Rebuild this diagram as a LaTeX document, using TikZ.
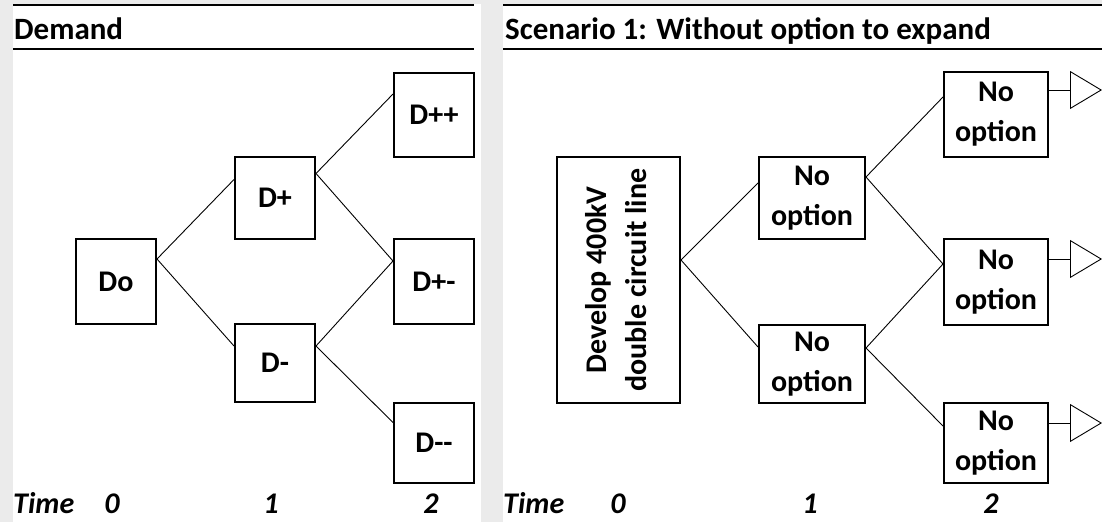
\documentclass[tikz,border=0pt]{standalone}
\usepackage{fontspec}
\setmainfont{Carlito}
\usepackage{tikz}
\usetikzlibrary{arrows.meta}
\tikzset{
	box/.style={draw,line width=2pt,minimum width=80pt,inner sep=0pt,align=center,
		font=\bfseries\fontsize{30}{40}\selectfont},
	link/.style={line width=0.9pt},
	rule/.style={line width=2pt},
	lbl/.style={anchor=base,inner sep=0pt,font=\bfseries\itshape\fontsize{30}{36}\selectfont},
	head/.style={anchor=base west,inner sep=0pt,font=\bfseries\fontsize{31}{36}\selectfont},
	outarrow/.style={line width=0.9pt,-{Triangle[open,length=32pt,width=38pt]}}
}

\begin{document}
\begin{tikzpicture}[x=1pt,y=-1pt]
		% fondo y paneles
		\fill[black!8] (0,0) rectangle (1102,522);
		\fill[white] (13,4) rectangle (481,522);
		\fill[white] (503,4) rectangle (1102,522);
		\useasboundingbox (0,0) rectangle (1102,522);
		\draw[rule] (13,5) -- (474,5);
		\draw[rule] (13,49) -- (474,49);
		\draw[rule] (503,5) -- (1102,5);
		\draw[rule] (503,49) -- (1102,49);
		\node[head] (hd) at (14,39) {Demand};
		\node[head] (hs) at (505,39) {Scenario 1: Without option to expand};
		% demand tree
		\foreach \name/\Xc/\Yc/\Ht/\Texto in 
		{Do/116/281.5/85/Do, Dp/275/197.5/82/D+, Dm/275/363/78/D-,
		 Dpp/434/115/84/D++, Dpm/434/281.5/85/D+-, Dmm/434/442.5/80/D-{}-}
		{
			\node[box,minimum height=\Ht pt] (\name) at (\Xc,\Yc) {\Texto};
		}
		\foreach \a/\sa/\b/\sb in 
		{Do/-21/Dp/-24, Do/-21/Dm/-23, Dp/-18/Dpp/-22, Dp/-18/Dpm/-23, Dm/-23/Dpm/-23, Dm/-23/Dmm/-21}
		{
			\draw[link] ([yshift=\sa pt]\a.north east) -- ([yshift=\sb pt]\b.north west);
		}
		% scenario tree
		\node[box,minimum width=123pt,minimum height=246pt] (Dev) at (618.5,280)
			{\rotatebox{90}{\begin{tabular}{@{}c@{}}Develop 400kV\\double circuit line\end{tabular}}};
		\foreach \name/\Xc/\Yc/\Wd/\Ht in 
		{N1a/812/198/106/82, N1b/812/364/106/78,
		 N2a/996/114.5/104/85, N2b/996/282/104/86, N2c/996/443/104/80}
		{
			\node[box,minimum width=\Wd pt,minimum height=\Ht pt] (\name) at (\Xc,\Yc) {No\\option};
		}
		\draw[link] ([yshift=20pt]Dev.east) -- ([yshift=-27pt]N1a.north west);
		\draw[link] ([yshift=20pt]Dev.east) -- ([yshift=-23pt]N1b.north west);
		\foreach \a/\sa/\b/\sb in 
		{N1a/-21/N2a/-26, N1a/-21/N2b/-26, N1b/-24/N2b/-26, N1b/-24/N2c/-24}
		{
			\draw[link] ([yshift=\sa pt]\a.north east) -- ([yshift=\sb pt]\b.north west);
		}
		\foreach \n/\s in {N2a/-19, N2b/-21, N2c/-21}
		{
			\path ([yshift=\s pt]\n.north east) ++(53,0) coordinate (\n-tip);
			\draw[outarrow] ([yshift=\s pt]\n.north east) -- (\n-tip);
		}
		% eje de tiempo
		\node[lbl,anchor=base west] (tl) at (13,513) {Time};
		\node[lbl,anchor=base west] (tr) at (503,513) {Time};
		\foreach \name/\Xc/\Texto in 
		{t0/112/0, t1/271/1, t2/431/2, s0/618/0, s1/810/1, s2/991/2}
		{
			\node[lbl] (\name) at (\Xc,513) {\Texto};
		}
\end{tikzpicture}
\end{document}
